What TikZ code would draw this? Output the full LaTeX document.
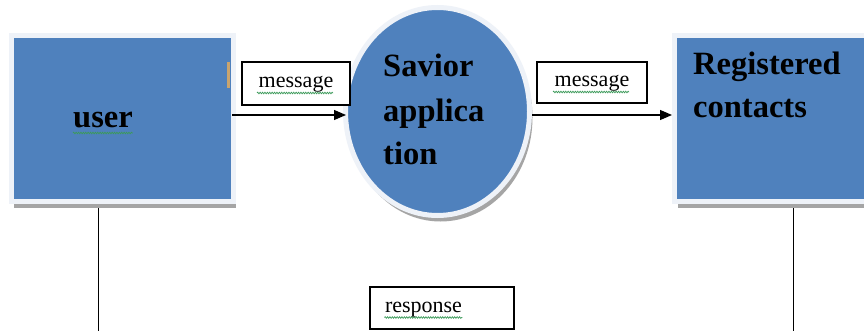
\documentclass[tikz,border=0pt]{standalone}
\usepackage{fontspec}
\setmainfont{Liberation Serif}
\usetikzlibrary{shapes.geometric,shadows,arrows.meta,decorations.pathmorphing,backgrounds}
\definecolor{boxblue}{HTML}{4F81BD}
\definecolor{framecol}{HTML}{EEF2F8}
\definecolor{shadowgray}{HTML}{A5A5A5}
\definecolor{squig}{HTML}{3C9A5A}
\definecolor{tabcol}{HTML}{C9A46E}
\begin{document}
\begin{tikzpicture}[x=1pt,y=-1pt,
  blueshape/.style={fill=boxblue, draw=framecol, line width=5pt, inner sep=0pt,
    drop shadow={shadow xshift=3pt, shadow yshift=-6pt, fill=shadowgray, opacity=1}},
  bigtext/.style={font=\fontsize{32.5}{44}\selectfont\bfseries, anchor=base west, inner sep=0pt, text=black},
  labelbox/.style={draw=black, line width=1.2pt, fill=white, font=\fontsize{22}{26}\selectfont,
    text height=14pt, text depth=5pt, inner sep=0pt},
  flow/.style={line width=1.2pt, -{Triangle[length=12pt,width=10pt]}},
  wire/.style={line width=1pt},
  squiggle/.style={draw=squig, line width=0.7pt, decorate,
    decoration={snake, amplitude=0.8pt, segment length=2.4pt}}]
\useasboundingbox (0,0) rectangle (864,331);
\clip (0,0) rectangle (864,331);

% main shapes
\node[blueshape, rectangle, minimum width=222pt, minimum height=166pt] (user) at (122,118.5) {};
\node[blueshape, ellipse, minimum width=184pt, minimum height=208pt] (sav) at (437.5,111.5) {};
\node[blueshape, rectangle, minimum width=240pt, minimum height=166pt] (reg) at (794.5,118.5) {};

\fill[tabcol] (227,62) rectangle (230,88);

% texts in shapes
\node[bigtext] (usert) at (73,128) {user};
\node[bigtext] (sav1) at (383,77) {Savior};
\node[bigtext] (sav2) at (383,122) {applica};
\node[bigtext] (sav3) at (383,165) {tion};
\node[bigtext] (reg1) at (693,75) {Registered};
\node[bigtext] (reg2) at (693,118) {contacts};

% label boxes
\node[labelbox, minimum width=108pt, minimum height=43pt] (m1) at (296,83.5) {message};
\node[labelbox, minimum width=110pt, minimum height=41pt] (m2) at (592,82.5) {message};
\node[labelbox, minimum width=144pt, minimum height=42pt, text width=114pt, align=left] (resp) at (442,308) {response};

% arrows
\draw[flow, shorten >=-3pt, shorten <=-3.5pt] ([yshift=3.5pt]user.east) -- ([yshift=-3.5pt]sav.west);
\draw[flow] ([yshift=-3.5pt]sav.east) -- ([yshift=3.5pt]reg.west);

% free ends
\coordinate (ul) at (98,345);
\coordinate (ur) at (793,345);

\begin{pgfonlayer}{background}
  \fill[white] (0,0) rectangle (864,331);
  \draw[wire] ([xshift=-24pt]user.south) -- (ul);
  \draw[wire] ([xshift=-1.5pt]reg.south) -- (ur);
\end{pgfonlayer}

% spell-check squiggles
\draw[squiggle] ([yshift=-5pt]usert.base west) -- ([yshift=-5pt]usert.base east);
\draw[squiggle] ([xshift=-39pt,yshift=-5pt]m1.base) -- ([xshift=37pt,yshift=-5pt]m1.base);
\draw[squiggle] ([xshift=-39pt,yshift=-5pt]m2.base) -- ([xshift=37pt,yshift=-5pt]m2.base);
\draw[squiggle] ([xshift=15pt,yshift=-5pt]resp.base west) -- ([xshift=93pt,yshift=-5pt]resp.base west);
\end{tikzpicture}
\end{document}
